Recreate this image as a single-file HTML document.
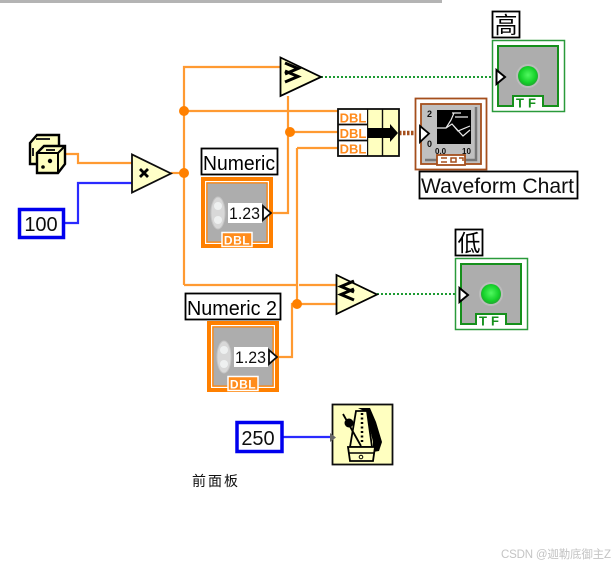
<!DOCTYPE html>
<html><head><meta charset="utf-8"><style>
html,body{margin:0;padding:0;background:#fff;width:616px;height:565px;overflow:hidden}
svg{display:block}
text{font-family:"Liberation Sans","Noto Sans CJK SC",sans-serif}
</style></head><body>
<svg width="616" height="565" viewBox="0 0 616 565" xmlns="http://www.w3.org/2000/svg">
<defs>
<filter id="b" x="-2%" y="-2%" width="104%" height="104%"><feGaussianBlur stdDeviation="0.38"/></filter>
<radialGradient id="led" cx="50%" cy="45%" r="50%"><stop offset="0" stop-color="#50f860"/><stop offset=".8" stop-color="#14d028"/><stop offset="1" stop-color="#20b030"/></radialGradient>
<g id="ind">
<rect x="0.500" y="0.500" width="72" height="71" fill="#fff" stroke="#2a9a3a" stroke-width="1.500"/>
<rect x="6" y="6" width="60" height="60" fill="#adadad" stroke="#12901e" stroke-width="2"/>
<path d="M21 66V56H51V66" fill="#fff" stroke="#12901e" stroke-width="2"/>
<rect x="22" y="60" width="28" height="8" fill="#fff"/>
<text x="36" y="67.500" font-size="13" font-weight="bold" fill="#12901e" text-anchor="middle" letter-spacing="4">TF</text>
<circle cx="36" cy="36" r="12" fill="#bcbcbc"/>
<circle cx="36" cy="36" r="10" fill="url(#led)"/>
<path d="M4.500 30L13 37L4.500 44Z" fill="#fff" stroke="#000" stroke-width="2"/>
</g>
<g id="ctl">
<rect x="0" y="0" width="72" height="71" fill="#ff8000"/>
<rect x="4" y="4" width="64" height="63" fill="#fff"/>
<rect x="5.200" y="5.200" width="61.600" height="60.600" fill="#ff8000"/>
<rect x="6.500" y="6.500" width="59" height="58" fill="#adadad"/>
<rect x="21" y="55.500" width="30" height="14" fill="#ff8c1a" stroke="#fff" stroke-width="1.500"/>
<text x="36" y="67.500" font-size="12" font-weight="bold" fill="#fff" text-anchor="middle" letter-spacing=".5">DBL</text>
<ellipse cx="17" cy="36" rx="7" ry="16" fill="#d8d8d8" stroke="#c4c4c4"/>
<ellipse cx="17" cy="29" rx="4" ry="4" fill="#eef0f0"/>
<ellipse cx="17" cy="43" rx="4" ry="4" fill="#eef0f0"/>
<rect x="27" y="26" width="34" height="20" fill="#fff"/>
<text x="28" y="42" font-size="16.500" fill="#111" textLength="31" lengthAdjust="spacingAndGlyphs">1.23</text>
<path d="M62 29L70 36L62 43Z" fill="#fff" stroke="#111" stroke-width="1.800"/>
</g>
</defs>
<rect x="0" y="0" width="442" height="3" fill="#b4b4b4"/>
<g filter="url(#b)">
<g fill="none" stroke="#ff9a33" stroke-width="2.200">
<path d="M65 154H78V163H132"/>
<path d="M171 173H184"/>
<path d="M184 285V67H281"/>
<path d="M184 111H338"/>
<path d="M184 285H296M299 285H337"/>
<path d="M271 213H288V96"/>
<path d="M289 132H338"/>
<path d="M297 148H338"/>
<path d="M297 148V305"/>
<path d="M279 357H292V304H337"/>
</g>
<g fill="#ff8000">
<circle cx="184" cy="111" r="5"/><circle cx="184" cy="173" r="5"/>
<circle cx="290" cy="132" r="5"/><circle cx="297" cy="304" r="5"/>
</g>
<path d="M65 223H78V183H132" fill="none" stroke="#2a2aff" stroke-width="2.200"/>
<path d="M283 437H333" fill="none" stroke="#2a2aff" stroke-width="2.200"/>
<path d="M321 77H492M377 294H458" fill="none" stroke="#1f9a33" stroke-width="2" stroke-dasharray="2 2"/>
<path d="M399 133H415" fill="none" stroke="#a5501f" stroke-width="4.500" stroke-dasharray="2.500 1.500"/>

<!-- dice -->
<path d="M30 143L37 135H59V158L53 164H30Z" fill="#ffffc0" stroke="#000" stroke-width="2.400"/>
<path d="M37 173V153L44 146H65V164L58 173Z" fill="#ffffc0" stroke="#000" stroke-width="2.400"/>
<path d="M37 153H58V173M58 153L65 146" fill="none" stroke="#000" stroke-width="2"/>
<circle cx="43" cy="167" r="1.800" fill="#000"/><circle cx="50" cy="161" r="2.200" fill="#000"/>
<path d="M46 150L55 150M36 139H50M33 148V156" stroke="#222" stroke-width="2" fill="none"/>

<!-- 100 -->
<rect x="19.500" y="209.500" width="44" height="28" fill="#fff" stroke="#0000ee" stroke-width="3.500"/>
<text x="41" y="231" font-size="20" fill="#111" text-anchor="middle">100</text>

<!-- multiply -->
<path d="M132 154.500V192.500L171 173.500Z" fill="#ffffc8" stroke="#111" stroke-width="1.800"/>
<path d="M140 169L148 177M148 169L140 177" stroke="#000" stroke-width="2.800"/>

<!-- gt -->
<path d="M280.500 57.500V96L321 77Z" fill="#ffffc8" stroke="#000" stroke-width="1.800"/>
<path d="M285 63L298 68.500L285 74M285 71L298 76.500L285 82" fill="none" stroke="#000" stroke-width="3"/>
<!-- lt -->
<path d="M336.500 275V314L377 294.500Z" fill="#ffffc8" stroke="#000" stroke-width="1.800"/>
<path d="M354 281L341 286.500L354 292M354 289L341 294.500L354 300" fill="none" stroke="#000" stroke-width="3"/>

<!-- Numeric -->
<rect x="201.500" y="148.500" width="76" height="26" fill="#fff" stroke="#000" stroke-width="1.800"/>
<text x="203" y="170" font-size="20" fill="#000" textLength="72" lengthAdjust="spacingAndGlyphs">Numeric</text>
<use href="#ctl" x="201" y="177"/>
<!-- Numeric 2 -->
<rect x="185.500" y="293.500" width="95" height="26" fill="#fff" stroke="#000" stroke-width="1.800"/>
<text x="187" y="315" font-size="20" fill="#000" textLength="90" lengthAdjust="spacingAndGlyphs">Numeric 2</text>
<use href="#ctl" x="207" y="321"/>

<!-- 高 -->
<rect x="492.500" y="11.500" width="27" height="26" fill="#fff" stroke="#000" stroke-width="1.800"/>
<text x="506" y="33" font-size="23" fill="#000" text-anchor="middle">高</text>
<use href="#ind" x="492" y="40"/>
<!-- 低 -->
<rect x="455.500" y="229.500" width="27" height="26" fill="#fff" stroke="#000" stroke-width="1.800"/>
<text x="469" y="251" font-size="23" fill="#000" text-anchor="middle">低</text>
<use href="#ind" x="455" y="258"/>

<!-- build array -->
<rect x="338" y="109" width="61" height="47" fill="#ffffc0" stroke="#111" stroke-width="1.800"/>
<path d="M367.500 109V156M382.500 109V156" stroke="#111" stroke-width="1.400"/>
<rect x="339" y="110" width="28" height="45" fill="#fff"/>
<path d="M338 124.500H367M338 140.500H367" stroke="#111" stroke-width="1.800"/>
<g font-size="13" font-weight="bold" fill="#ff8a1a" text-anchor="middle">
<text x="353" y="122.500">DBL</text><text x="353" y="138">DBL</text><text x="353" y="153.500">DBL</text>
</g>
<path d="M368 128H390V124L398 133L390 142V138H368Z" fill="#000"/>

<!-- chart -->
<rect x="415.500" y="98.500" width="71" height="71" fill="#fff" stroke="#a5501f" stroke-width="1.800"/>
<rect x="421" y="104" width="60" height="60" fill="#c0c0c0" stroke="#a5501f" stroke-width="1.800"/>
<rect x="437" y="110" width="34" height="34" fill="#000"/>
<path d="M437 128H446L451 120L454 113M446 128L452 124L458 131L470 126M452 124L463 136L470 130M455 117H468M452 113H461" fill="none" stroke="#e8e8e8" stroke-width="1.200"/>
<path d="M476 107V160H425" fill="none" stroke="#777" stroke-width="2.500"/>
<g font-size="9" font-weight="bold" fill="#111"><text x="427" y="117">2</text><text x="427" y="147">0</text><text x="435" y="154" font-size="8">0.0</text><text x="462" y="154" font-size="8">10</text></g>
<rect x="437" y="155" width="28" height="10" fill="#fff" stroke="#a5501f" stroke-width="1.800"/>
<path d="M441 158H447M441 162H447M451 158H456V162H451ZM459 158H463V161" fill="none" stroke="#a5501f" stroke-width="1.500"/>
<path d="M420 126L429 133.500L420 142Z" fill="#fff" stroke="#000" stroke-width="1.800"/>

<!-- Waveform label -->
<rect x="419.500" y="171.500" width="158" height="27" fill="#fff" stroke="#000" stroke-width="1.800"/>
<text x="421" y="193" font-size="21" fill="#111" textLength="153" lengthAdjust="spacingAndGlyphs">Waveform Chart</text>

<!-- 250 -->
<rect x="237" y="422.500" width="45" height="29" fill="#fff" stroke="#0000ee" stroke-width="3.500"/>
<text x="258" y="445" font-size="20" fill="#111" text-anchor="middle">250</text>

<!-- metronome -->
<rect x="332.500" y="404.500" width="60" height="60" fill="#ffffc0" stroke="#111" stroke-width="1.800"/>
<path d="M330 433L336 437.500L330 442Z" fill="#666"/>
<path d="M358 408H370L376 422L382 442L379 451L373 452V442L366 412Z" fill="#000"/>
<path d="M356 411H367L372 447H350Z" fill="#ffffc0" stroke="#000" stroke-width="1.800"/>
<path d="M362 413V443" stroke="#000" stroke-width="2.500" stroke-dasharray="2 2.500"/>
<path d="M343 414L361 446" stroke="#000" stroke-width="1.800"/>
<circle cx="349" cy="423" r="4.500" fill="#000"/>
<path d="M348 447H375L373 461H350Z" fill="#ffffc0" stroke="#000" stroke-width="1.800"/>
<path d="M349 453H374" stroke="#000" stroke-width="1.500"/>
<circle cx="361" cy="457" r="1.800" fill="none" stroke="#000"/>
</g>
<text x="192" y="486" font-size="14" fill="#111" letter-spacing="2">前面板</text>
<text x="501" y="558" font-size="11.500" fill="#c4c4c4" textLength="110">CSDN @迦勒底御主Z</text>
</svg>
</body></html>
